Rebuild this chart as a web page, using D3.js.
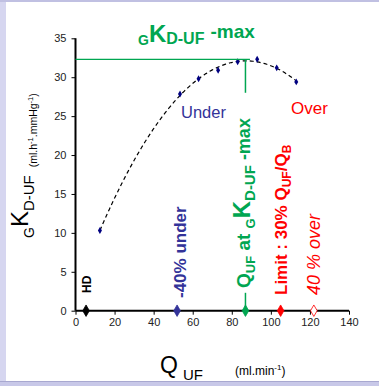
<!DOCTYPE html>
<html><head><meta charset="utf-8">
<script src="https://cdn.jsdelivr.net/npm/d3@7"></script>
<style>
html,body{margin:0;padding:0;background:#fff;}
svg{display:block;font-family:"Liberation Sans",Arial,sans-serif;}
</style></head>
<body>
<svg id="c" width="379" height="386"></svg>
<script>
// ---- data ----
const qUF = [12.5, 53.5, 63, 73, 83, 93, 103, 113];
const kDUF = [10.3, 27.85, 29.8, 30.9, 32.0, 32.3, 31.2, 29.4];
const xTicks = [0, 20, 40, 60, 80, 100, 120, 140];
const yTicks = [0, 5, 10, 15, 20, 25, 30, 35];
const markerNames = ["HD", "under", "max", "limit", "over"];
const markerQ = [5.4, 52, 87, 105, 122];
const kMax = 32.3;
const qAtMax = 87;

const GREEN = "#00a651", BLUE = "#333399", RED = "#ff0000";
const svg = d3.select("#c");

// background frame
svg.append("rect").attr("x",0).attr("y",0).attr("width",6).attr("height",386).attr("fill","#d6d6f0");
svg.append("rect").attr("x",0).attr("y",0).attr("width",379).attr("height",2).attr("fill","#c0c0e2");
svg.append("rect").attr("x",0).attr("y",381).attr("width",379).attr("height",5).attr("fill","#c8c8e8");
svg.append("rect").attr("x",0).attr("y",381).attr("width",379).attr("height",1).attr("fill","#a8a8d0");

const x = d3.scaleLinear().domain([0,140]).range([75.5,349]);
const y = d3.scaleLinear().domain([0,35]).range([310.7,38.3]);

// axes
const gx = svg.append("g").attr("transform",`translate(0,${y(0)})`)
  .call(d3.axisBottom(x).tickValues(xTicks).tickSize(4).tickPadding(4));
const gy = svg.append("g").attr("transform",`translate(${x(0)},0)`)
  .call(d3.axisLeft(y).tickValues(yTicks).tickSize(4).tickPadding(5));
[gx,gy].forEach(g=>{
  g.select(".domain").attr("stroke","#000").attr("stroke-width",2);
  g.selectAll(".tick line").attr("stroke","#000").attr("stroke-width",1);
  g.selectAll(".tick text").attr("font-size",11).attr("fill","#222")
    .attr("font-family","'Liberation Sans',Arial,sans-serif");
});
gx.select(".domain").attr("d",`M${x(0)},0H${x(140)}`);
gy.select(".domain").attr("d",`M0,${y(35)}V${y(0)}`);

// quadratic least-squares trendline
(function(){
  const n=qUF.length;
  let S=[0,0,0,0,0], T=[0,0,0];
  for(let i=0;i<n;i++){const q=qUF[i],k=kDUF[i];
    for(let p=0;p<5;p++)S[p]+=Math.pow(q,p);
    for(let p=0;p<3;p++)T[p]+=k*Math.pow(q,p);}
  const M=[[S[0],S[1],S[2],T[0]],[S[1],S[2],S[3],T[1]],[S[2],S[3],S[4],T[2]]];
  for(let i=0;i<3;i++){for(let j=i+1;j<3;j++){const f=M[j][i]/M[i][i];for(let c=i;c<4;c++)M[j][c]-=f*M[i][c];}}
  const co=[0,0,0];
  for(let i=2;i>=0;i--){let s=M[i][3];for(let c=i+1;c<3;c++)s-=M[i][c]*co[c];co[i]=s/M[i][i];}
  const q0=d3.min(qUF), q1=d3.max(qUF);
  const pts=d3.range(0,101).map(i=>{const q=q0+(q1-q0)*i/100;return [q,co[0]+co[1]*q+co[2]*q*q];});
  svg.append("path").attr("d",d3.line().x(d=>x(d[0])).y(d=>y(d[1]))(pts))
    .attr("fill","none").attr("stroke","#000").attr("stroke-width",1.2).attr("stroke-dasharray","4,3");
})();

// data points
svg.append("g").selectAll("path").data(qUF).join("path")
  .attr("d",d3.symbol(d3.symbolDiamond,14)())
  .attr("transform",(d,i)=>`translate(${x(d)},${y(kDUF[i])})`)
  .attr("fill","#000080");

// green max lines
svg.append("line").attr("x1",x(0)).attr("x2",x(89.3)).attr("y1",y(kMax)).attr("y2",y(kMax))
  .attr("stroke",GREEN).attr("stroke-width",1.2);
svg.append("line").attr("x1",x(qAtMax)).attr("x2",x(qAtMax)).attr("y1",y(kMax)).attr("y2",y(28))
  .attr("stroke",GREEN).attr("stroke-width",1.5);
svg.append("line").attr("x1",x(qAtMax)).attr("x2",x(qAtMax)).attr("y1",y(2.3)).attr("y2",y(0))
  .attr("stroke",GREEN).attr("stroke-width",1.5);

// axis markers
const mFill = {HD:"#000", under:BLUE, max:GREEN, limit:RED, over:"#fff"};
const mStroke = {HD:"#000", under:BLUE, max:GREEN, limit:RED, over:RED};
svg.append("g").selectAll("path").data(markerNames).join("path")
  .attr("d",d3.symbol(d3.symbolDiamond,38)())
  .attr("transform",(d,i)=>`translate(${x(markerQ[i])},${y(0)})`)
  .attr("fill",d=>mFill[d]).attr("stroke",d=>mStroke[d]).attr("stroke-width",0.8);

// title
const t = svg.append("text").attr("x",138).attr("font-weight","bold").attr("fill",GREEN);
t.append("tspan").attr("y",45).attr("font-size",14).text("G");
t.append("tspan").attr("y",42).attr("font-size",24).text("K");
t.append("tspan").attr("y",44).attr("font-size",16).text("D-UF");
t.append("tspan").attr("y",38).attr("font-size",19).attr("dx",6).text("-max");

// y-axis label
const yl = svg.append("g").attr("transform","translate(0,238) rotate(-90)").append("text").attr("fill","#000");
yl.append("tspan").attr("x",0).attr("y",34).attr("font-size",14).text("G");
yl.append("tspan").attr("y",28).attr("font-size",24).text("K");
yl.append("tspan").attr("y",34).attr("font-size",15).text("D-UF");
yl.append("tspan").attr("y",37).attr("dx",8).attr("font-size",10.5).text("(ml.h");
yl.append("tspan").attr("y",33).attr("font-size",7.5).text("-1");
yl.append("tspan").attr("y",37).attr("font-size",10.5).text(".mmHg");
yl.append("tspan").attr("y",33).attr("font-size",7.5).text("-1");
yl.append("tspan").attr("y",37).attr("font-size",10.5).text(")");

// x-axis label
const xl = svg.append("text").attr("x",160).attr("fill","#000");
xl.append("tspan").attr("y",373).attr("font-size",23).text("Q");
xl.append("tspan").attr("y",380).attr("dx",5).attr("font-size",15).text("UF");
const xl2 = svg.append("text").attr("x",235).attr("fill","#000");
xl2.append("tspan").attr("y",375).attr("font-size",12).text("(ml.min");
xl2.append("tspan").attr("y",370).attr("font-size",8).text("-1");
xl2.append("tspan").attr("y",375).attr("font-size",12).text(")");

// Under / Over
svg.append("text").attr("x",181).attr("y",118).attr("font-size",16.5).attr("fill",BLUE).text("Under");
svg.append("text").attr("x",291).attr("y",114).attr("font-size",17).attr("fill",RED).text("Over");

// rotated annotations
function rot(tx,ty){return svg.append("g").attr("transform",`translate(${tx},${ty}) rotate(-90)`).append("text").attr("x",0).attr("y",0);}
rot(91,293).attr("font-size",12).attr("font-weight","bold").attr("fill","#000").text("HD");
rot(186,298).attr("font-size",17).attr("font-weight","bold").attr("fill",BLUE).text("-40% under");
const g1 = rot(250,288).attr("font-weight","bold").attr("fill",GREEN);
g1.append("tspan").attr("y",0).attr("font-size",19).text("Q");
g1.append("tspan").attr("y",5).attr("font-size",13).text("UF");
g1.append("tspan").attr("y",0).attr("font-size",19).text(" at ");
g1.append("tspan").attr("y",5).attr("font-size",13).text("G");
g1.append("tspan").attr("y",0).attr("font-size",24).text("K");
g1.append("tspan").attr("y",5).attr("font-size",15).text("D-UF");
g1.append("tspan").attr("y",0).attr("font-size",18).text(" -max");
const r1 = rot(287,295).attr("font-weight","bold").attr("fill",RED);
r1.append("tspan").attr("y",0).attr("font-size",17).text("Limit : 30% Q");
r1.append("tspan").attr("y",4).attr("font-size",12).text("UF");
r1.append("tspan").attr("y",0).attr("font-size",17).text("/Q");
r1.append("tspan").attr("y",4).attr("font-size",12).text("B");
rot(320,295).attr("font-size",18).attr("font-style","italic").attr("fill",RED).text("40 % over");
</script>
</body></html>
